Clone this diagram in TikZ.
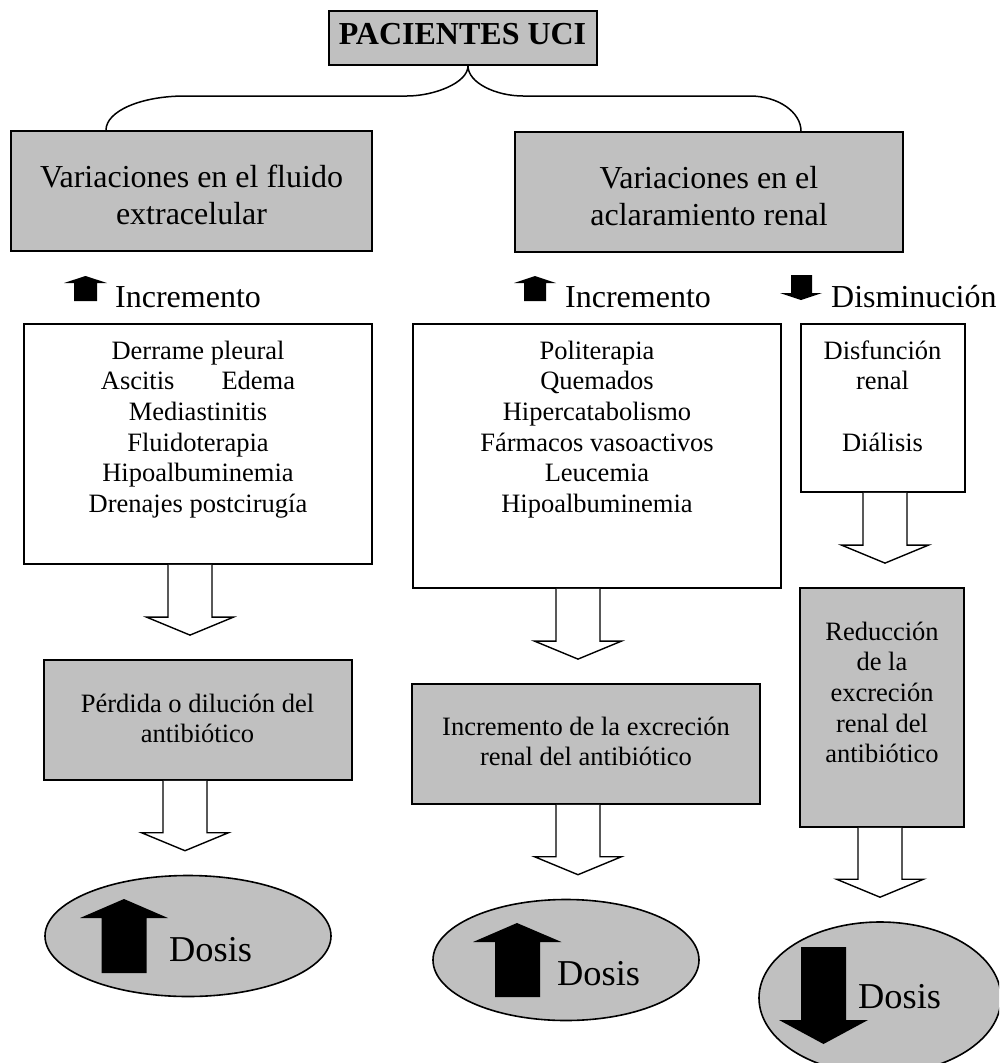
\documentclass[tikz,border=0pt]{standalone}
\usepackage{fontspec}
\setmainfont{Liberation Serif}
\usetikzlibrary{calc,shapes.geometric}
\definecolor{boxgray}{RGB}{192,192,192}

\newcommand\bodyfont{\fontsize{26.5}{30.7}\selectfont}
\newcommand\headfont{\fontsize{32}{37}\selectfont}
\newcommand\dosisfont{\fontsize{36.4}{42}\selectfont}
\newcommand\stack[1]{\begin{tabular}[t]{@{}c@{}}#1\end{tabular}}

% hollow block arrow from a node down to just above another node
% #1 = horizontal offset from the source's south anchor, #2 = source, #3 = target
\newcommand\hollowarrow[3]{%
  \draw[hollow] let \p1=([xshift=#1]#2.south), \p2=(#3.north) in
    (\x1-22pt,\y1) -- (\x1-22pt,\y2+42pt) -- (\x1-43.5pt,\y2+42pt)
    -- (\x1,\y2+24pt) -- (\x1+43.5pt,\y2+42pt) -- (\x1+22pt,\y2+42pt)
    -- (\x1+22pt,\y1);}

\tikzset{
  graybox/.style={draw, line width=1.8pt, fill=boxgray, inner sep=0pt},
  whitebox/.style={draw, line width=1.8pt, fill=white, inner sep=0pt},
  dose/.style={ellipse, draw, line width=1.6pt, fill=boxgray, inner sep=0pt},
  txt/.style={inner sep=0pt, anchor=base},
  hollow/.style={line width=1.4pt, fill=white, line join=miter},
  bracket/.style={line width=1.5pt},
  solidarrow/.style={fill=black}
}

\begin{document}
\begin{tikzpicture}[x=1pt, y=-1pt]
\useasboundingbox (0,0) rectangle (999,1063);
\clip (0,0) rectangle (999,1063);

% top level
\node[graybox, minimum width=268pt, minimum height=54pt] (title) at (463,38) {};
\node[txt] at (462.5,44) {\headfont\bfseries PACIENTES UCI};

\node[graybox, minimum width=361pt, minimum height=120pt] (varfl) at (191.5,191) {};
\node[txt] at (191.5,187) {\headfont\stack{Variaciones en el fluido\\extracelular}};

\node[graybox, minimum width=388pt, minimum height=120pt] (varcl) at (709,192) {};
\node[txt] at (709,188) {\headfont\stack{Variaciones en el\\aclaramiento renal}};

% curly bracket joining the title to both branches
\draw[bracket] ([xshift=-85.5pt]varfl.north) .. controls ([xshift=-85.5pt,yshift=19pt]varfl.north) and (141,96) .. (185,96)
  -- (407,96) .. controls (434,96) and ([xshift=5pt,yshift=-17pt]title.south) .. ([xshift=5pt]title.south);
\draw[bracket] ([xshift=5pt]title.south) .. controls ([xshift=5pt,yshift=-17pt]title.south) and (496,96) .. (523,96)
  -- (750,96) .. controls (778,96) and ([xshift=92pt,yshift=19pt]varcl.north) .. ([xshift=92pt]varcl.north);

% trend labels with small block arrows
\node[txt, anchor=base west] (incl) at (115,307) {\headfont Incremento};
\node[txt, anchor=base west] (incm) at (565,307) {\headfont Incremento};
\node[txt, anchor=base west] (dism) at (831,307) {\headfont Disminución};
\fill[solidarrow] (64,283) -- (85.5,276) -- (107,283) -- (97,283) -- (97,301) -- (74,301) -- (74,283) -- cycle;
\fill[solidarrow] (514,283) -- (535,276) -- (556,283) -- (546,283) -- (546,301) -- (524,301) -- (524,283) -- cycle;
\fill[solidarrow] (791,275) -- (812,275) -- (812,293) -- (822,293) -- (801,300) -- (780,293) -- (791,293) -- cycle;

% causes
\node[whitebox, minimum width=348pt, minimum height=240pt] (wl) at (198,444) {};
\node[txt] at (198,359) {\bodyfont\stack{Derrame pleural\\Ascitis\hspace{47pt}Edema\\Mediastinitis\\Fluidoterapia\\Hipoalbuminemia\\Drenajes postcirugía}};

\node[whitebox, minimum width=368pt, minimum height=264pt] (wm) at (597,456) {};
\node[txt] at (597,359) {\bodyfont\stack{Politerapia\\Quemados\\Hipercatabolismo\\Fármacos vasoactivos\\Leucemia\\Hipoalbuminemia}};

\node[whitebox, minimum width=164pt, minimum height=168pt] (wr) at (883,408) {};
\node[txt] at (882.5,359) {\bodyfont\stack{Disfunción\\renal\\ \\Diálisis}};

% consequences
\node[graybox, minimum width=308pt, minimum height=120pt] (gl) at (198,720) {};
\node[txt] at (197.5,712) {\bodyfont\stack{Pérdida o dilución del\\antibiótico}};

\node[graybox, minimum width=348pt, minimum height=120pt] (gm) at (586,744) {};
\node[txt] at (586,735) {\bodyfont\stack{Incremento de la excreción\\renal del antibiótico}};

\node[graybox, minimum width=164pt, minimum height=239pt] (gr) at (882,707.5) {};
\node[txt] at (882,640) {\bodyfont\stack{Reducción\\de la\\excreción\\renal del\\antibiótico}};

% dose outcomes
\node[dose, minimum width=286pt, minimum height=121pt] (el) at (188,936) {};
\node[dose, minimum width=266pt, minimum height=121pt] (em) at (566,960) {};
\node[dose, minimum width=242pt, minimum height=152pt] (er) at (880,998) {};

\begin{scope}[shift={(el.center)}]
  \fill[solidarrow] (-64,-37) -- (-20,-18) -- (-41.5,-18) -- (-41.5,37) -- (-86.5,37) -- (-86.5,-18) -- (-108,-18) -- cycle;
  \node[txt, anchor=base west] at (-19,25) {\dosisfont Dosis};
\end{scope}
\begin{scope}[shift={(em.center)}]
  \fill[solidarrow] (-49,-37) -- (-4.5,-18) -- (-26,-18) -- (-26,37) -- (-71,37) -- (-71,-18) -- (-93,-18) -- cycle;
  \node[txt, anchor=base west] at (-9,25) {\dosisfont Dosis};
\end{scope}
\begin{scope}[shift={(er.center)}]
  \fill[solidarrow] (-79,-51) -- (-34,-51) -- (-34,22) -- (-12,22) -- (-56.5,46) -- (-101,22) -- (-79,22) -- cycle;
  \node[txt, anchor=base west] at (-22,10) {\dosisfont Dosis};
\end{scope}

% flow arrows
\hollowarrow{-8pt}{wl}{gl}
\hollowarrow{-13pt}{gl}{el}
\hollowarrow{-19pt}{wm}{gm}
\hollowarrow{-8pt}{gm}{em}
\hollowarrow{2pt}{wr}{gr}
\hollowarrow{-2pt}{gr}{er}
\end{tikzpicture}
\end{document}
